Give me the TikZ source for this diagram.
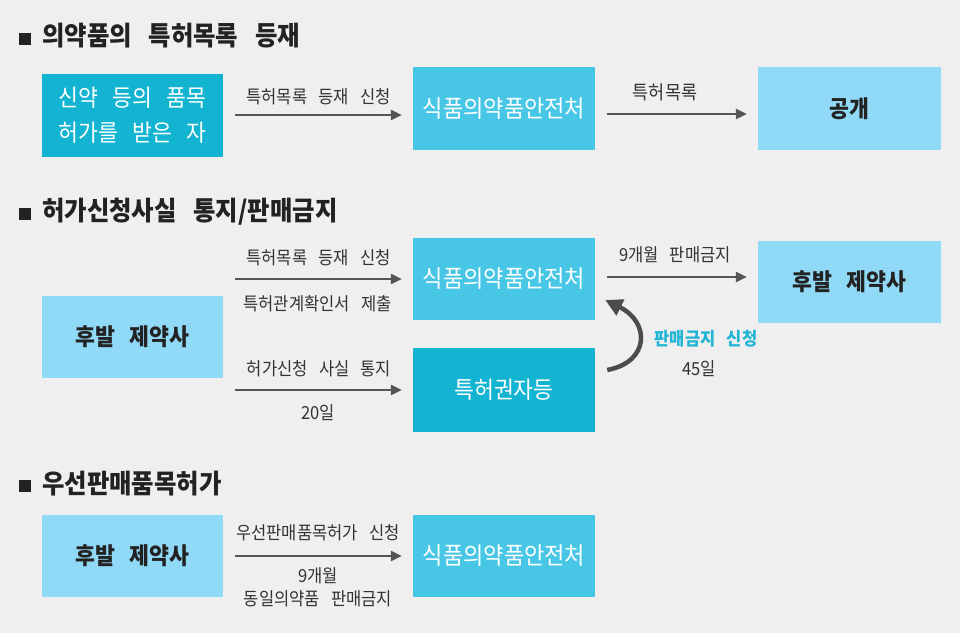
\documentclass[tikz,border=0pt]{standalone}
\usepackage{fontspec}
\usetikzlibrary{arrows.meta,calc}
\newfontfamily\kr[FakeStretch=0.92,WordSpace=1.7]{Noto Sans CJK KR}
\newfontfamily\krt[FakeStretch=0.92,WordSpace=3]{Noto Sans CJK KR}
\definecolor{bg}{HTML}{EFEFF0}
\definecolor{cdark}{HTML}{13B4D1}
\definecolor{cmid}{HTML}{47C7E5}
\definecolor{clight}{HTML}{90D9F7}
\definecolor{arrowc}{HTML}{555555}
\definecolor{txt}{HTML}{222222}
\definecolor{lbl}{HTML}{333333}
\definecolor{cyantxt}{HTML}{22B4D4}
\begin{document}
\begin{tikzpicture}[x=1pt,y=-1pt,
  box/.style={minimum width=182pt, minimum height=82pt, inner sep=0pt, align=center},
  darkbox/.style={box, fill=cdark, text=white, font=\kr\fontsize{23.5}{35}\selectfont},
  midbox/.style={box, fill=cmid, text=white, font=\kr\fontsize{24}{28}\selectfont},
  lightbox/.style={box, fill=clight, text=txt, font=\kr\fontsize{23.5}{28}\selectfont\bfseries},
  title/.style={anchor=west, inner sep=0pt, text=txt, font=\krt\fontsize{26.5}{30}\selectfont\bfseries},
  bullet/.style={fill=txt, minimum size=12pt, inner sep=0pt},
  lab/.style={inner sep=0pt, text=lbl, align=center, font=\kr\fontsize{18}{23}\selectfont},
  arr/.style={draw=arrowc, line width=2.6pt, -{Triangle[length=11pt,width=10pt]}, shorten <=12pt, shorten >=11pt},
]
\useasboundingbox (0,0) rectangle (960,633);
\fill[bg] (0,0) rectangle (960,633);

% Section 1
\node[bullet] (b1) at (25,39) {};
\node[title] (t1) at (42,36) {의약품의 특허목록 등재};
\node[darkbox, minimum width=181pt, minimum height=83pt] (A) at (132.5,115) {신약 등의 품목\\허가를 받은 자};
\node[midbox, minimum height=83pt] (B) at (504,108.5) {식품의약품안전처};
\node[lightbox, minimum width=183pt, minimum height=83pt] (C) at (849.5,108.5) {공개};
\draw[arr] (A.east) -- (A.east -| B.west);
\draw[arr] ([yshift=-5.5pt]B.east) -- ([yshift=-5.5pt]C.west);
\node[lab] (l1) at (318.5,97) {특허목록 등재 신청};
\node[lab, font=\kr\fontsize{19}{23}\selectfont] (l2) at (665,92) {특허목록};

% Section 2
\node[bullet] (b2) at (25,214) {};
\node[title] (t2) at (42,212) {허가신청사실 통지/판매금지};
\node[lightbox, minimum width=181pt] (L) at (132.5,337) {후발 제약사};
\node[midbox] (S) at (504,279) {식품의약품안전처};
\node[darkbox, minimum height=84pt] (T) at (504,390) {특허권자등};
\node[lightbox, minimum width=183pt] (R) at (849.5,282) {후발 제약사};
\draw[arr] (S.west -| L.east) -- (S.west);
\draw[arr] (T.west -| L.east) -- (T.west);
\draw[arr] ([yshift=2pt]S.east) -- ([yshift=2pt]S.east -| R.west);
\node[lab] (l3) at (318.5,258) {특허목록 등재 신청};
\node[lab] (l4) at (317.5,304) {특허관계확인서 제출};
\node[lab] (l5) at (319,369) {허가신청 사실 통지};
\node[lab] (l6) at (318,413) {20일};
\node[lab] (l7) at (675,255) {9개월 판매금지};
\coordinate (cs) at ($(T.east)+(12,-20)$);
\coordinate (ce) at ($(S.east)+(10,21)$);
\draw[draw=arrowc!90!black, line width=4.5pt, -{Triangle[length=17pt,width=17pt]}]
  (cs) .. controls (650,362) and (650,322) .. (ce);
\node[lab, text=cyantxt, font=\kr\fontsize{18}{23}\selectfont\bfseries] (l8) at (706,339) {판매금지 신청};
\node[lab] (l9) at (699,369) {45일};

% Section 3
\node[bullet] (b3) at (25,486) {};
\node[title] (t3) at (42,484) {우선판매품목허가};
\node[lightbox, minimum width=181pt] (L3) at (132.5,556) {후발 제약사};
\node[midbox] (S3) at (504,556) {식품의약품안전처};
\draw[arr] (L3.east) -- (S3.west);
\node[lab] (l10) at (318,533) {우선판매품목허가 신청};
\node[lab] (l11) at (318,587.5) {9개월\\동일의약품 판매금지};
\end{tikzpicture}
\end{document}
